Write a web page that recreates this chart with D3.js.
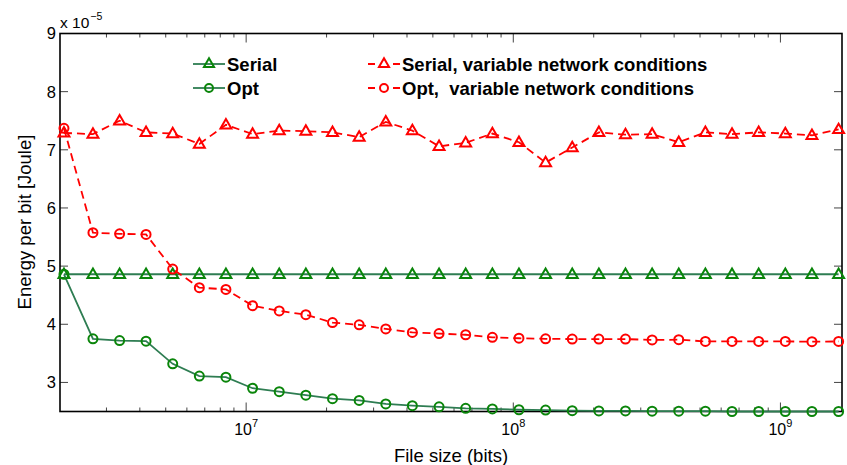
<!DOCTYPE html>
<html><head><meta charset="utf-8">
<script src="https://cdn.jsdelivr.net/npm/d3@7/dist/d3.min.js"></script>
<style>
html,body{margin:0;padding:0;background:#fff;}
svg{display:block;font-family:"Liberation Sans",Arial,Helvetica,sans-serif;}
</style></head>
<body>
<svg id="chart" width="847" height="465"></svg>
<script>
// File sizes (bits)
const fileSizes = [2.08e6, 2.67e6, 3.36e6, 4.22e6, 5.31e6, 6.68e6, 8.40e6, 1.057e7, 1.33e7, 1.673e7,
  2.105e7, 2.649e7, 3.332e7, 4.19e7, 5.274e7, 6.634e7, 8.35e7, 1.05e8, 1.321e8, 1.662e8,
  2.091e8, 2.63e8, 3.309e8, 4.163e8, 5.237e8, 6.588e8, 8.29e8, 1.043e9, 1.312e9, 1.651e9];
// Energy per bit (x 1e-5 Joule)
const serial = [4.86, 4.86, 4.86, 4.86, 4.86, 4.86, 4.86, 4.86, 4.86, 4.86,
  4.86, 4.86, 4.86, 4.86, 4.86, 4.86, 4.86, 4.86, 4.86, 4.86,
  4.86, 4.86, 4.86, 4.86, 4.86, 4.86, 4.86, 4.86, 4.86, 4.86];
const opt = [4.86, 3.75, 3.72, 3.71, 3.32, 3.11, 3.09, 2.90, 2.84, 2.78,
  2.72, 2.69, 2.63, 2.60, 2.58, 2.555, 2.545, 2.53, 2.525, 2.515,
  2.51, 2.51, 2.505, 2.505, 2.505, 2.50, 2.50, 2.50, 2.50, 2.50];
const serialVar = [7.29, 7.27, 7.50, 7.30, 7.28, 7.10, 7.43, 7.27, 7.33, 7.32,
  7.30, 7.22, 7.48, 7.33, 7.06, 7.12, 7.28, 7.13, 6.78, 7.04,
  7.30, 7.26, 7.27, 7.13, 7.30, 7.27, 7.30, 7.28, 7.25, 7.35];
const optVar = [7.37, 5.575, 5.555, 5.545, 4.95, 4.63, 4.60, 4.32, 4.23, 4.165,
  4.03, 3.99, 3.92, 3.86, 3.84, 3.82, 3.775, 3.76, 3.75, 3.745,
  3.745, 3.745, 3.73, 3.735, 3.705, 3.705, 3.705, 3.705, 3.70, 3.705];
const yTicks = [3, 4, 5, 6, 7, 8, 9];
const xMajorExps = [7, 8, 9];
const seriesNames = ["Serial", "Opt", "Serial, variable network conditions", "Opt,  variable network conditions"];

const svg = d3.select("#chart");
const L = 60, R = 842, T = 33.5, B = 411.5;
const x = d3.scaleLog().domain([2.01e6, 1.70e9]).range([L, R]);
const y = d3.scaleLinear().domain([2.5, 9]).range([B, T]);

const GREEN_LINE = "#2e7d52", GREEN_MK = "#0a850a", RED = "#ff0000";

// ticks
const tickCol = "#444";
const gT = svg.append("g");
yTicks.forEach(v => {
  gT.append("line").attr("x1", L).attr("x2", L + 8).attr("y1", y(v)).attr("y2", y(v)).attr("stroke", tickCol).attr("stroke-width", 1);
  gT.append("line").attr("x1", R).attr("x2", R - 8).attr("y1", y(v)).attr("y2", y(v)).attr("stroke", tickCol).attr("stroke-width", 1);
  gT.append("text").attr("x", 56).attr("y", y(v)).attr("dy", "0.36em").attr("text-anchor", "end")
    .attr("font-size", 16.5).attr("fill", "#000").text(v);
});
const minor = [];
for (let e = 6; e <= 9; e++) for (let m = 1; m <= 9; m++) {
  const v = m * Math.pow(10, e);
  if (v > x.domain()[0] && v < x.domain()[1]) minor.push({v, major: m === 1});
}
minor.forEach(t => {
  const len = t.major ? 9 : 4;
  gT.append("line").attr("x1", x(t.v)).attr("x2", x(t.v)).attr("y1", B).attr("y2", B - len).attr("stroke", tickCol).attr("stroke-width", 1);
  gT.append("line").attr("x1", x(t.v)).attr("x2", x(t.v)).attr("y1", T).attr("y2", T + len).attr("stroke", tickCol).attr("stroke-width", 1);
});
xMajorExps.forEach(e => {
  const t = gT.append("text").attr("x", x(Math.pow(10, e))).attr("y", 435).attr("text-anchor", "middle").attr("font-size", 16);
  t.append("tspan").text("10");
  t.append("tspan").attr("font-size", 11).attr("dy", -8).text(e);
});

// frame
svg.append("rect").attr("x", L).attr("y", T).attr("width", R - L).attr("height", B - T)
  .attr("fill", "none").attr("stroke", "#000").attr("stroke-width", 1.6);

// multiplier
const mt = svg.append("text").attr("x", 60).attr("y", 28).attr("font-size", 15.5);
mt.append("tspan").text("x 10");
mt.append("tspan").attr("font-size", 10.5).attr("dy", -8).attr("dx", 1).text("\u22125");

// axis labels
svg.append("text").attr("x", 451).attr("y", 462).attr("text-anchor", "middle").attr("font-size", 18.5).text("File size (bits)");
svg.append("text").attr("transform", "translate(31,222) rotate(-90)").attr("text-anchor", "middle").attr("font-size", 18.5).text("Energy per bit [Joule]");

// series
const line = d3.line().x(d => x(d[0])).y(d => y(d[1]));
const tri = d3.symbol().type(d3.symbolTriangle).size(52);
function drawSeries(vals, color, mkColor, dashed, marker) {
  const pts = fileSizes.map((f, i) => [f, vals[i]]);
  svg.append("path").datum(pts).attr("d", line).attr("fill", "none").attr("stroke", color)
    .attr("stroke-width", 1.8).attr("stroke-dasharray", dashed ? "8,5" : null);
  const g = svg.append("g");
  pts.forEach(p => {
    if (marker === "tri") {
      g.append("path").attr("d", tri).attr("transform", `translate(${x(p[0])},${y(p[1]) + 0.5})`)
        .attr("fill", "none").attr("stroke", mkColor).attr("stroke-width", 2);
    } else {
      g.append("circle").attr("cx", x(p[0])).attr("cy", y(p[1])).attr("r", 4.5)
        .attr("fill", "none").attr("stroke", mkColor).attr("stroke-width", 2);
    }
  });
}
drawSeries(serial, GREEN_LINE, GREEN_MK, false, "tri");
drawSeries(opt, GREEN_LINE, GREEN_MK, false, "circ");
drawSeries(serialVar, RED, RED, true, "tri");
drawSeries(optVar, RED, RED, true, "circ");

// legend
const legend = [
  {name: seriesNames[0], lx: 193, ly: 64, color: GREEN_LINE, mk: GREEN_MK, dashed: false, marker: "tri"},
  {name: seriesNames[1], lx: 193, ly: 88, color: GREEN_LINE, mk: GREEN_MK, dashed: false, marker: "circ"},
  {name: seriesNames[2], lx: 368, ly: 64, color: RED, mk: RED, dashed: true, marker: "tri"},
  {name: seriesNames[3], lx: 368, ly: 88, color: RED, mk: RED, dashed: true, marker: "circ"}
];
const lg = svg.append("g");
legend.forEach(d => {
  lg.append("line").attr("x1", d.lx).attr("x2", d.lx + 32).attr("y1", d.ly).attr("y2", d.ly)
    .attr("stroke", d.color).attr("stroke-width", 1.8).attr("stroke-dasharray", d.dashed ? "7,18,7" : null);
  if (d.marker === "tri") {
    lg.append("path").attr("d", d3.symbol().type(d3.symbolTriangle).size(44)).attr("transform", `translate(${d.lx + 16},${d.ly})`)
      .attr("fill", "none").attr("stroke", d.mk).attr("stroke-width", 2);
  } else {
    lg.append("circle").attr("cx", d.lx + 16).attr("cy", d.ly).attr("r", 4)
      .attr("fill", "none").attr("stroke", d.mk).attr("stroke-width", 2);
  }
  lg.append("text").attr("x", d.lx + 34).attr("y", d.ly + 6.6).attr("font-size", 18.5).attr("font-weight", "bold")
    .style("white-space", "pre").text(d.name);
});
</script>
</body></html>
